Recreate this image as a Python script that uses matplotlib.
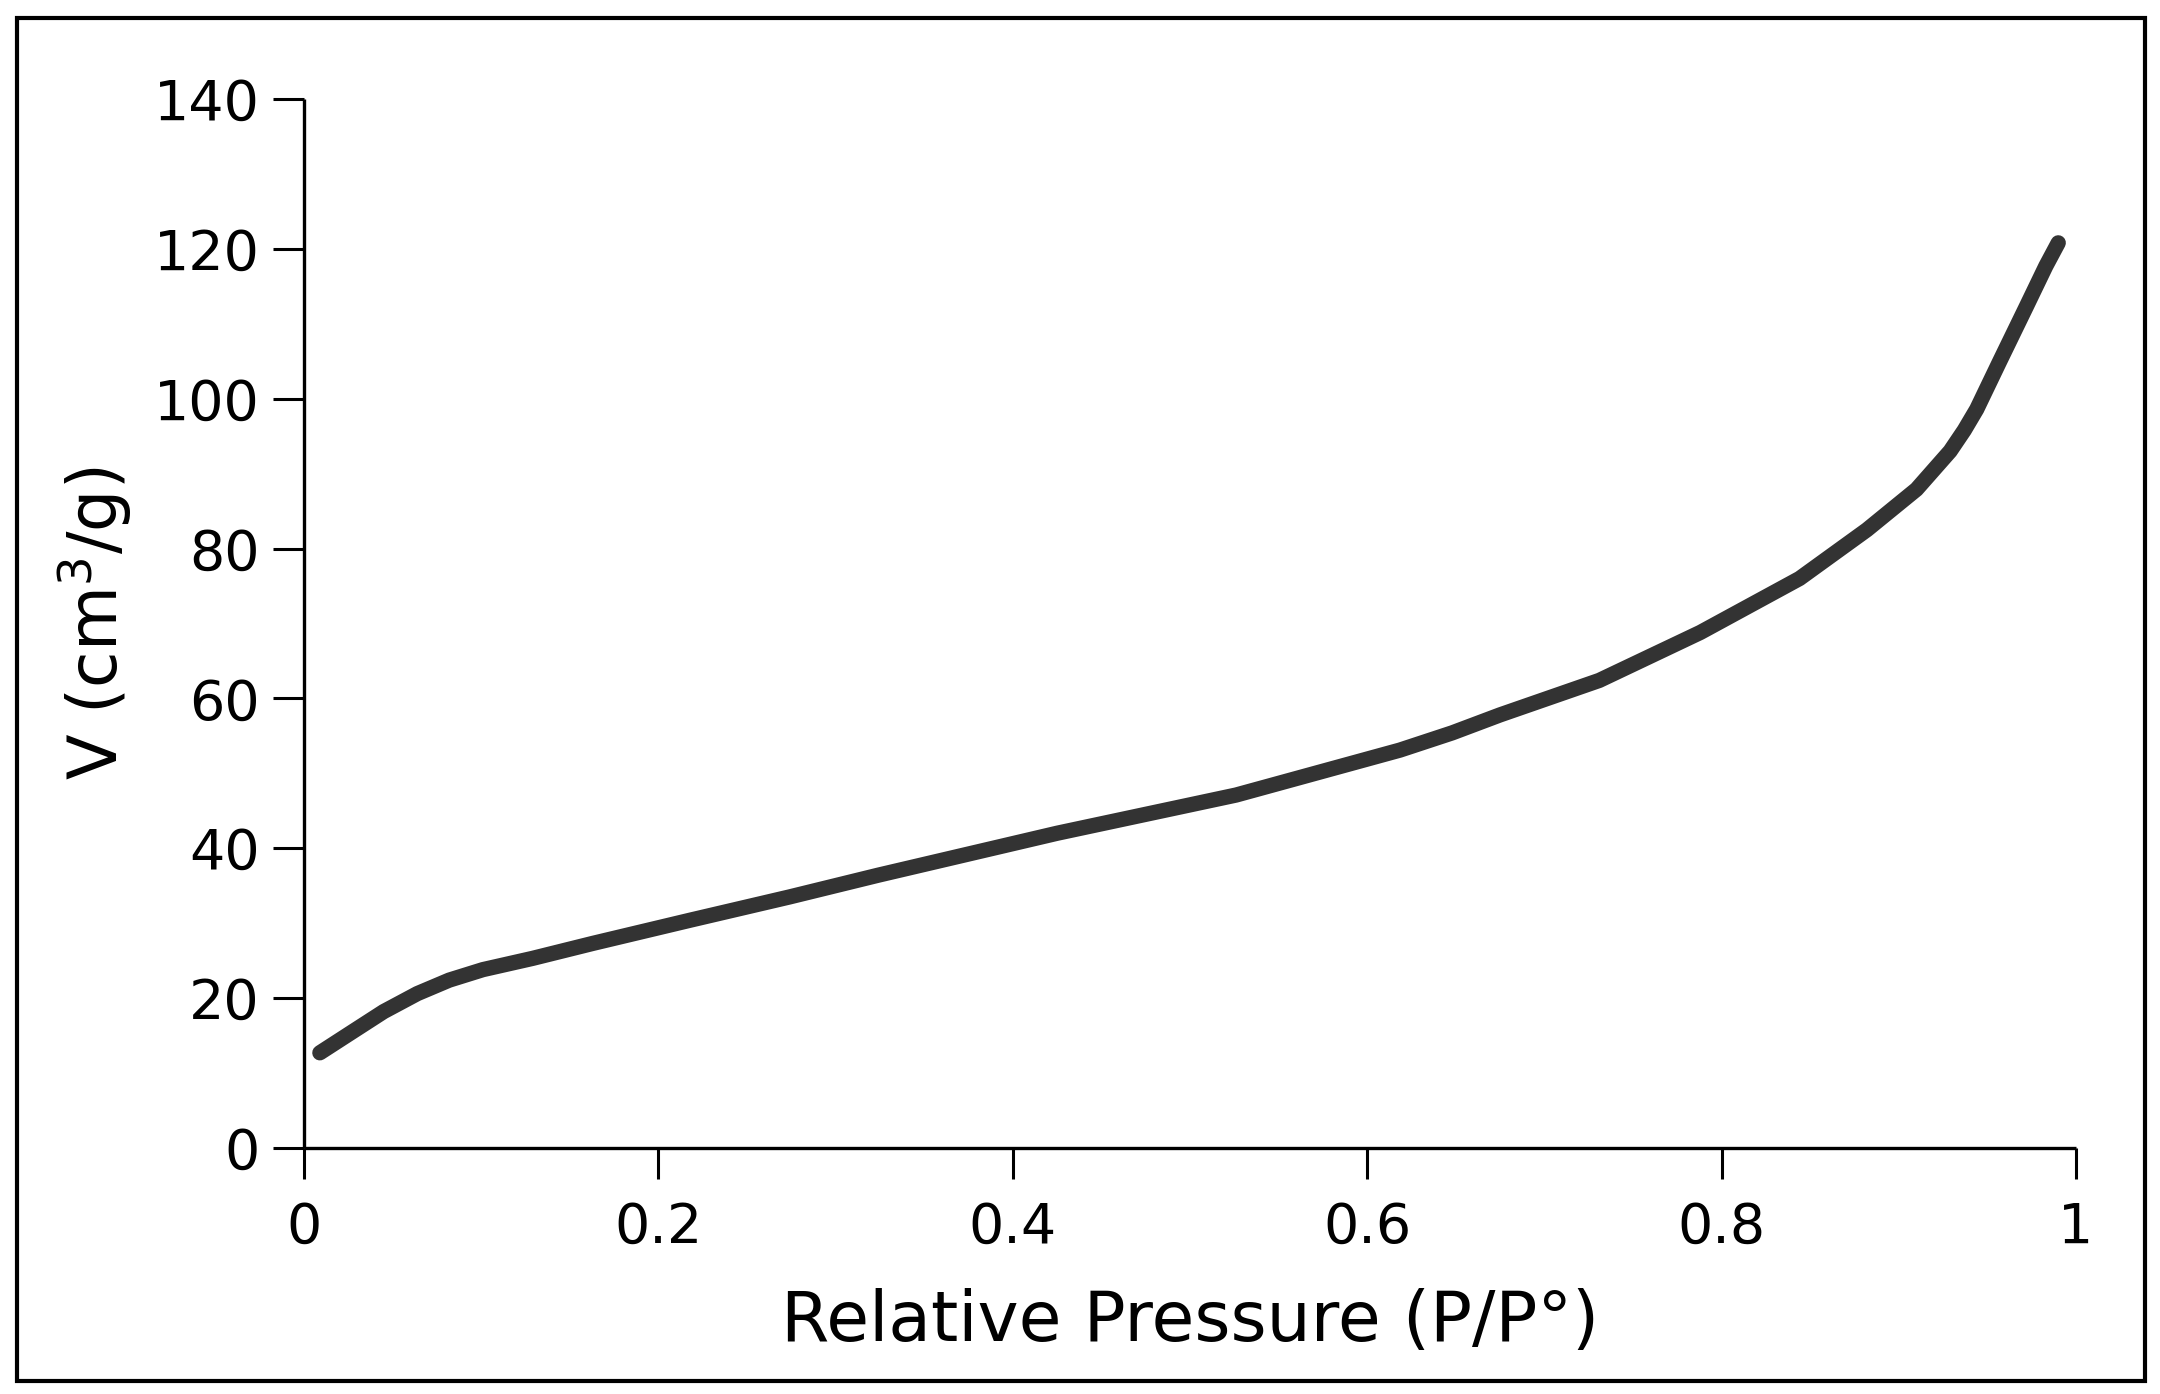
import matplotlib
matplotlib.use("Agg")
import matplotlib.pyplot as plt
from matplotlib.patches import Rectangle

# isotherm
pressure = [0.009, 0.026, 0.045, 0.064, 0.082, 0.101, 0.129, 0.163, 0.218, 0.274,
            0.324, 0.425, 0.526, 0.6185, 0.648, 0.675, 0.731, 0.788, 0.844, 0.882,
            0.910, 0.929, 0.937, 0.944, 0.957, 0.972, 0.983, 0.990]
volume = [12.7, 15.3, 18.2, 20.6, 22.4, 23.8, 25.3, 27.3, 30.4, 33.5,
          36.4, 42.0, 47.1, 53.1, 55.4, 57.8, 62.4, 68.8, 76.0, 82.5,
          87.9, 93.0, 95.8, 98.6, 105.0, 112.3, 117.7, 120.8]

x_ticks = [0, 0.2, 0.4, 0.6, 0.8, 1]
x_labels = ["0", "0.2", "0.4", "0.6", "0.8", "1"]
y_ticks = [0, 20, 40, 60, 80, 100, 120, 140]

fig = plt.figure(figsize=(21.6, 13.94), dpi=100)
ax = fig.add_axes([0.1407, 0.1765, 0.8204, 0.7525])  # left, bottom, w, h

ax.plot(pressure, volume, color="#333333", lw=11, solid_capstyle="round",
        solid_joinstyle="round")

ax.set_xlim(0, 1)
ax.set_ylim(0, 140)
ax.set_xticks(x_ticks)
ax.set_xticklabels(x_labels)
ax.set_yticks(y_ticks)

for s in ["top", "right"]:
    ax.spines[s].set_visible(False)
for s in ["left", "bottom"]:
    ax.spines[s].set_linewidth(2.4)
    ax.spines[s].set_capstyle("butt")

ax.tick_params(axis="both", length=22, width=2.2, labelsize=40, colors="black")
ax.tick_params(axis="x", pad=16)
ax.tick_params(axis="y", pad=10)

ax.set_xlabel("Relative Pressure (P/P°)", fontsize=50, labelpad=24)
ax.set_ylabel("V (cm$^3$/g)", fontsize=48, labelpad=14)

# border round the whole picture
fig.patches.append(Rectangle((0.0079, 0.0093), 0.9851, 0.9777, transform=fig.transFigure,
                             fill=False, edgecolor="black", lw=3))

fig.savefig("out.png", dpi=100)
